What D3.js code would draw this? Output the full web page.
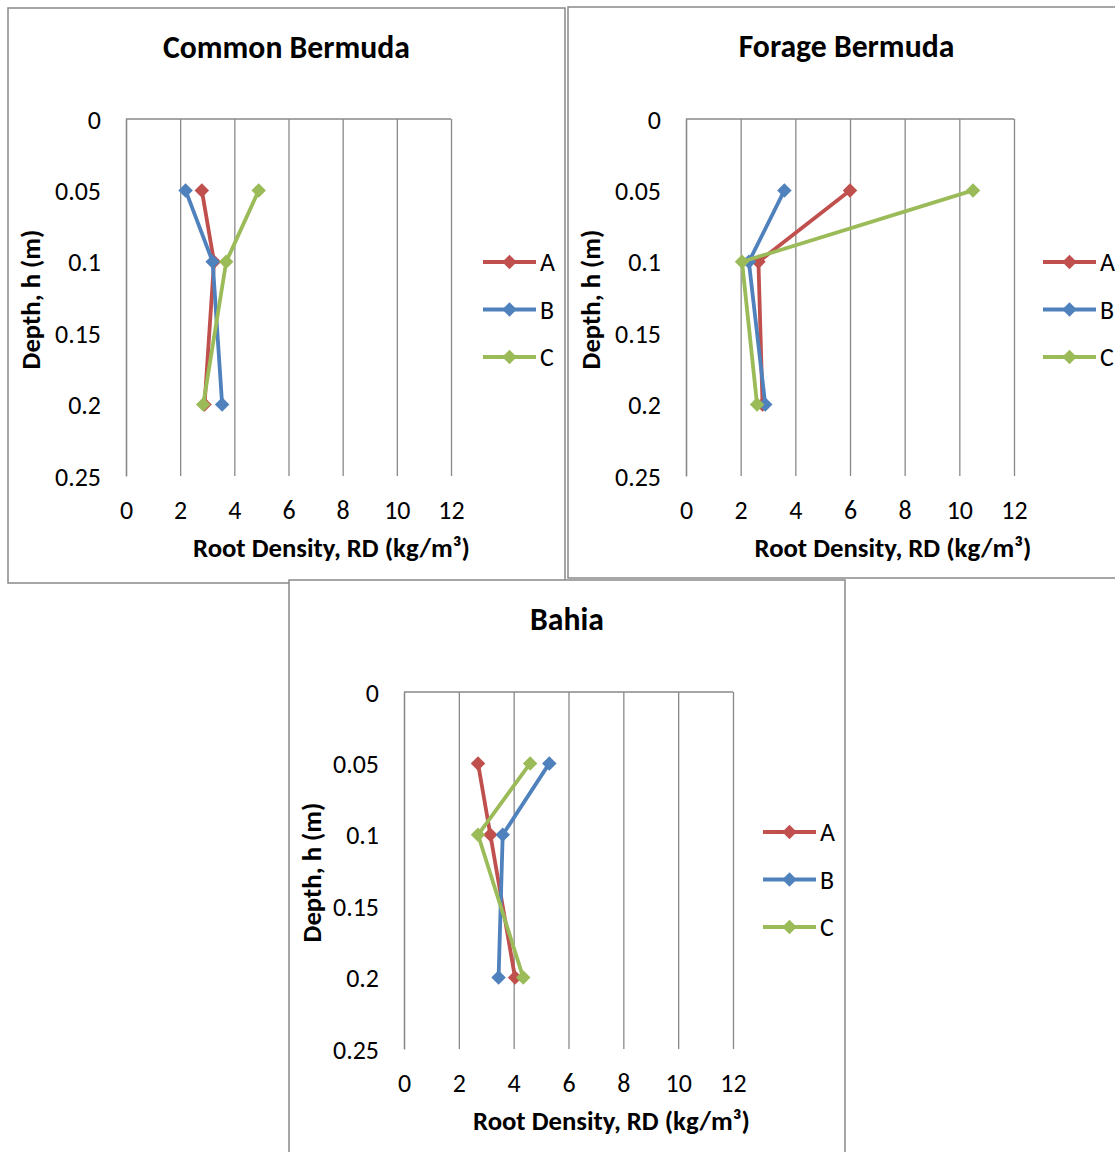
<!DOCTYPE html>
<html>
<head>
<meta charset="utf-8">
<script src="https://cdn.jsdelivr.net/npm/d3@7"></script>
<style>
  html, body { margin: 0; padding: 0; background: #fff; }
  svg { display: block; }
  text { font-family: Carlito, Lato, "Open Sans", sans-serif; fill: #000; }
</style>
</head>
<body>
<svg id="chart" width="1115" height="1152"></svg>
<script>
// ---------- data ----------
const depths = [0.05, 0.1, 0.2];
const seriesNames = ["A", "B", "C"];
const seriesColors = ["#C0504D", "#4F81BD", "#9BBB59"];
const xTicks = [0, 2, 4, 6, 8, 10, 12];
const yTicks = [0, 0.05, 0.1, 0.15, 0.2, 0.25];
const panelTitles = ["Common Bermuda", "Forage Bermuda", "Bahia"];

const commonA = [2.8, 3.25, 2.9];
const commonB = [2.2, 3.2, 3.55];
const commonC = [4.9, 3.7, 2.85];

const forageA = [6.0, 2.65, 2.8];
const forageB = [3.6, 2.3, 2.9];
const forageC = [10.5, 2.05, 2.6];

const bahiaA = [2.7, 3.15, 4.05];
const bahiaB = [5.3, 3.6, 3.45];
const bahiaC = [4.6, 2.7, 4.35];

const xTitle = "Root Density, RD (kg/m³)";
const yTitle = "Depth, h (m)";

// ---------- layout ----------
const panels = [
  { title: panelTitles[0], series: [commonA, commonB, commonC],
    box: [8, 8, 557, 575], plot: [126, 119, 451, 476], legend: [483, 262] },
  { title: panelTitles[1], series: [forageA, forageB, forageC],
    box: [568, 7, 557, 571], plot: [686, 119, 1014, 476], legend: [1043, 262] },
  { title: panelTitles[2], series: [bahiaA, bahiaB, bahiaC],
    box: [289, 580, 556, 600], plot: [404, 692, 733, 1049], legend: [763, 832] }
];

const svg = d3.select("#chart");
const gray = "#898989";

// helper: fit font size to target width
function fitFont(sel, target, start) {
  sel.attr("font-size", start);
  const w = sel.node().getComputedTextLength();
  const fs = start * target / w;
  sel.attr("font-size", fs);
  return fs;
}

const probe = svg.append("text").text("0.05");
const tickFS = fitFont(probe, 46, 24);
probe.attr("font-weight", "bold").text("Common Bermuda");
const titleFS = fitFont(probe, 247, 28);
probe.text(xTitle);
const axisFS = fitFont(probe, 277, 24);
probe.remove();

const diamond = d3.symbol().type(d3.symbolSquare).size(105)();

panels.forEach((p) => {
  const [bx, by, bw, bh] = p.box;
  const [x0, y0, x1, y1] = p.plot;
  const g = svg.append("g");

  g.append("rect")
    .attr("x", bx).attr("y", by).attr("width", bw).attr("height", bh)
    .attr("fill", "#fff").attr("stroke", gray).attr("stroke-width", 1.5);

  const x = d3.scaleLinear().domain([0, 12]).range([x0, x1]);
  const y = d3.scaleLinear().domain([0, 0.25]).range([y0, y1]);

  // title
  g.append("text")
    .attr("x", bx + bw / 2)
    .attr("y", by + 39)
    .attr("text-anchor", "middle").attr("dominant-baseline", "central")
    .attr("font-weight", "bold").attr("font-size", titleFS)
    .text(p.title);

  // vertical gridlines
  const grid = d3.axisBottom(x).tickValues(xTicks).tickSize(y1 - y0).tickFormat("");
  const gg = g.append("g").attr("transform", `translate(0,${y0})`).call(grid);
  gg.select(".domain").remove();
  gg.selectAll("line").attr("stroke", gray).attr("stroke-width", 1.3);

  // x axis line at top (depth 0)
  g.append("line").attr("x1", x0).attr("x2", x1).attr("y1", y0).attr("y2", y0)
    .attr("stroke", gray).attr("stroke-width", 1.3);

  // x tick labels at bottom
  const xa = d3.axisBottom(x).tickValues(xTicks).tickSize(0).tickPadding(0).tickFormat(d3.format("d"));
  const xg = g.append("g").attr("transform", `translate(0,${y1 + 34})`).call(xa);
  xg.select(".domain").remove();
  xg.selectAll("text").attr("dy", null).attr("y", 0)
    .attr("dominant-baseline", "central")
    .attr("font-size", tickFS).attr("fill", "#000");
  xg.attr("font-family", null).attr("font-size", null);

  // y axis
  const ya = d3.axisLeft(y).tickValues(yTicks).tickSize(0).tickPadding(25)
    .tickFormat(d => d3.format("~g")(d));
  const yg = g.append("g").attr("transform", `translate(${x0},0)`).call(ya);
  yg.select(".domain").attr("stroke", gray).attr("stroke-width", 1.3);
  yg.selectAll("text").attr("dy", null).attr("dominant-baseline", "central")
    .attr("font-size", tickFS).attr("fill", "#000");
  yg.attr("font-family", null).attr("font-size", null);

  // axis titles
  g.append("text")
    .attr("x", (x0 + x1) / 2 + 43).attr("y", y1 + 72)
    .attr("text-anchor", "middle").attr("dominant-baseline", "central")
    .attr("font-weight", "bold").attr("font-size", axisFS)
    .text(xTitle);
  g.append("text")
    .attr("transform", `translate(${bx + 23},${(y0 + y1) / 2 + 2}) rotate(-90)`)
    .attr("text-anchor", "middle").attr("dominant-baseline", "central")
    .attr("font-weight", "bold").attr("font-size", axisFS)
    .text(yTitle);

  // series
  const line = d3.line().x(d => x(d[0])).y(d => y(d[1]));
  p.series.forEach((vals, i) => {
    const pts = vals.map((v, k) => [v, depths[k]]);
    g.append("path").attr("d", line(pts))
      .attr("fill", "none").attr("stroke", seriesColors[i])
      .attr("stroke-width", 3.8).attr("stroke-linejoin", "round");
    g.selectAll(null).data(pts).enter().append("path")
      .attr("d", diamond)
      .attr("transform", d => `translate(${x(d[0])},${y(d[1])}) rotate(45)`)
      .attr("fill", seriesColors[i]);
  });

  // legend
  const [lx, ly] = p.legend;
  seriesNames.forEach((name, i) => {
    const yy = ly + i * 47.5;
    g.append("line").attr("x1", lx).attr("x2", lx + 53).attr("y1", yy).attr("y2", yy)
      .attr("stroke", seriesColors[i]).attr("stroke-width", 3.8);
    g.append("path").attr("d", diamond)
      .attr("transform", `translate(${lx + 26.5},${yy}) rotate(45)`)
      .attr("fill", seriesColors[i]);
    g.append("text").attr("x", lx + 57).attr("y", yy)
      .attr("dominant-baseline", "central").attr("font-size", tickFS)
      .text(name);
  });
});
</script>
</body>
</html>
